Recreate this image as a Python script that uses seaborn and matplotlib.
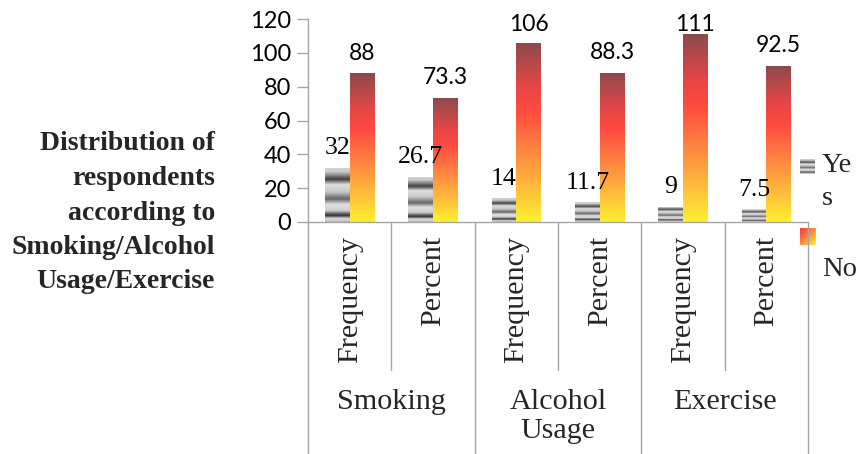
import numpy as np
import pandas as pd
import matplotlib
matplotlib.use("Agg")
import matplotlib.pyplot as plt
import matplotlib.transforms as mtransforms
from matplotlib.lines import Line2D
from matplotlib.colors import LinearSegmentedColormap
import seaborn as sns

# ---- data ----
groups = ["Smoking", "Alcohol\nUsage", "Exercise"]
measures = ["Frequency", "Percent"]
yes_values = [32, 26.7, 14, 11.7, 9, 7.5]
no_values = [88, 73.3, 106, 88.3, 111, 92.5]
yes_labels = ["32", "26.7", "14", "11.7", "9", "7.5"]
no_labels = ["88", "73.3", "106", "88.3", "111", "92.5"]
series = ["Yes", "No"]
legend_texts = ["Ye\ns", "No"]
y_ticks = [0, 20, 40, 60, 80, 100, 120]
title = "Distribution of\nrespondents\naccording to\nSmoking/Alcohol\nUsage/Exercise"

cats = [f"{g}|{m}" for g in groups for m in measures]
df = pd.DataFrame({
    "cat": cats * 2,
    "resp": ["Yes"] * len(cats) + ["No"] * len(cats),
    "value": yes_values + no_values,
})

sns.set_theme(style="white")
plt.rcParams["font.family"] = ["Liberation Serif", "DejaVu Serif"]

W, H = 859, 454
fig = plt.figure(figsize=(W / 100, H / 100), dpi=100)
ax_left, ax_right, ax_top, ax_bot = 308, 808, 19, 222
ax = fig.add_axes([ax_left / W, (H - ax_bot) / H,
                   (ax_right - ax_left) / W, (ax_bot - ax_top) / H])

sns.barplot(data=df, x="cat", y="value", hue="resp", order=cats,
            hue_order=series, width=0.59, palette=["#999999", "#ff8844"],
            legend=False, ax=ax, errorbar=None)

# gradients
yes_stops = [(0.0, 0.82), (0.08, 0.80), (0.22, 0.25), (0.32, 0.88),
             (0.45, 0.78), (0.58, 0.40), (0.68, 0.88), (0.79, 0.82),
             (0.88, 0.18), (0.94, 0.88), (1.0, 0.72)]
tpos = np.linspace(0, 1, 200)
gray = np.interp(tpos, [s[0] for s in yes_stops], [s[1] for s in yes_stops])
yes_img = np.repeat(np.stack([gray, gray, gray], axis=-1)[:, None, :], 2, axis=1)

no_cmap = LinearSegmentedColormap.from_list("no", [
    (0.0, "#8c4a4c"), (0.25, "#e84646"), (0.38, "#ff4a40"),
    (0.62, "#ff8a40"), (0.82, "#ffbe3a"), (1.0, "#fff030")])
no_img = no_cmap(tpos)[:, None, :3].repeat(2, axis=1)

for cont, img in zip(ax.containers, [yes_img, no_img]):
    for p in cont.patches:
        x0, w, h = p.get_x(), p.get_width(), p.get_height()
        p.set_facecolor("none")
        p.set_edgecolor("none")
        im = ax.imshow(img, extent=[x0, x0 + w, 0, h], aspect="auto",
                       origin="upper", zorder=2, interpolation="bilinear")
        im.set_clip_path(p)

# data labels
for ci, (cont, labs, font, fs) in enumerate(zip(
        ax.containers, [yes_labels, no_labels],
        [["Liberation Serif"], ["Lato", "DejaVu Sans"]], [18.5, 16.5])):
    for p, lab in zip(cont.patches, labs):
        xc = p.get_x() + p.get_width() / 2
        yv = min(p.get_height() + 8, 112.8)
        ax.text(xc, yv, lab, ha="center", va="baseline", fontsize=fs,
                family=font, color="black", zorder=5, clip_on=False)

ax.set_xlim(-0.5, len(cats) - 0.5)
ax.set_ylim(0, 120)
ax.set_yticks(y_ticks)
ax.set_yticklabels([str(t) for t in y_ticks], family=["Lato", "DejaVu Sans"],
                   fontsize=17, color="black")
ax.set_xticks([])
ax.set_xlabel("")
ax.set_ylabel("")
ax.tick_params(axis="y", length=8, width=1, color="#a6a6a6", pad=4, left=True)
for s in ["top", "right"]:
    ax.spines[s].set_visible(False)
for s in ["left", "bottom"]:
    ax.spines[s].set_color("#a6a6a6")
    ax.spines[s].set_linewidth(1)

# multi-level category axis
trans = mtransforms.blended_transform_factory(ax.transData, fig.transFigure)
fy = lambda py: (H - py) / H
for i in range(len(cats) + 1):
    xb = i - 0.5
    is_group = (i % len(measures) == 0)
    y_end = 0 if is_group else fy(370)
    fig.add_artist(Line2D([xb, xb], [fy(ax_bot), y_end], transform=trans,
                          color="#a6a6a6", lw=1))
for i, c in enumerate(cats):
    m = c.split("|")[1]
    fig.text(i, fy(236), m, transform=trans, rotation=90, ha="center",
             va="top", fontsize=21.7)
for gi, g in enumerate(groups):
    xc = gi * len(measures) + (len(measures) - 1) / 2
    fig.text(xc, fy(389), g, transform=trans, ha="center", va="top",
             fontsize=21.7, linespacing=1.15, multialignment="center")

# title on the left
fig.text(215 / W, fy(213), title, ha="right", va="center",
         multialignment="right", fontsize=20, fontweight="bold",
         linespacing=1.5)

# legend (manual)
lax1 = fig.add_axes([800 / W, fy(174), 15 / W, 15 / H])
lax1.imshow(yes_img, aspect="auto", interpolation="bilinear")
lax1.axis("off")
xx, yy = np.meshgrid(np.linspace(0, 1, 30), np.linspace(0, 1, 30))
diag = no_cmap(0.25 + 0.75 * (xx + yy) / 2)[..., :3]
lax2 = fig.add_axes([800 / W, fy(245), 16 / W, 17 / H])
lax2.imshow(diag, aspect="auto", interpolation="bilinear")
lax2.axis("off")
fig.text(822 / W, fy(182), legend_texts[0], ha="left", va="center",
         fontsize=20.5, linespacing=1.45)
fig.text(822 / W, fy(270), legend_texts[1], ha="left", va="center",
         fontsize=20.5)

fig.savefig("out.png", dpi=100, facecolor="white")
